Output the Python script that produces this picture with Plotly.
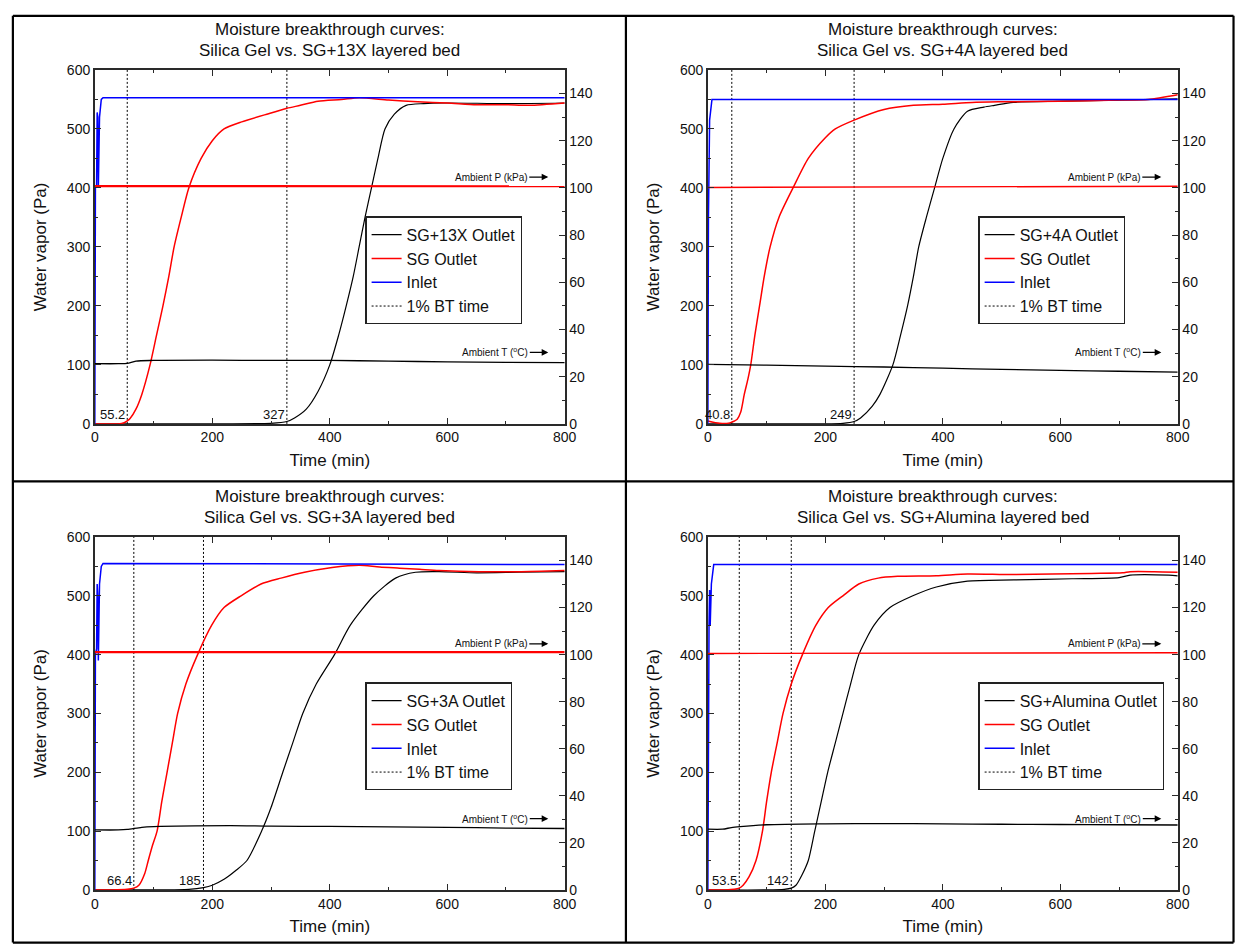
import plotly.graph_objects as go

W, H = 1247, 952
FONT = "Liberation Sans, Arial, Helvetica, sans-serif"

# ---------------- data ----------------
p1_title = ["Moisture breakthrough curves:", "Silica Gel vs. SG+13X layered bed"]
p1_name = "SG+13X Outlet"
p1_sg_t = [0, 20, 40, 50, 55.2, 60, 70, 80, 94, 105, 116, 126, 135, 147, 160, 181, 200, 220, 250, 300, 327, 350, 380, 420, 450, 500, 550, 600, 650, 700, 740, 800]
p1_sg_v = [0, 0, 0, 2, 5, 9, 25, 50, 100, 150, 200, 250, 300, 350, 400, 450, 480, 500, 512, 527, 535, 540, 547, 550, 553, 549, 546, 544, 541, 541, 540, 544]
p1_mix_t = [0, 100, 200, 300, 327, 340, 360, 380, 400, 415, 428, 440, 450, 460, 471, 482, 494, 510, 530, 560, 600, 700, 800]
p1_mix_v = [0, 0, 0, 1, 4, 10, 25, 55, 100, 150, 200, 250, 300, 350, 400, 450, 500, 525, 540, 543, 544, 543, 544]
p1_in_t = [0, 1, 3, 4, 5, 6, 8, 11, 14, 800]
p1_in_v = [0, 400, 405, 528, 520, 400, 520, 550, 553, 553]
p1_pamb_t = [0, 200, 400, 600, 800]
p1_pamb_v = [100.8, 100.8, 100.8, 100.7, 100.7]
p1_tamb_t = [0, 40, 55, 70, 100, 200, 300, 400, 500, 600, 700, 800]
p1_tamb_v = [25.5, 25.5, 25.6, 26.6, 26.9, 27.0, 26.9, 26.9, 26.6, 26.3, 26.1, 26.0]
p1_bt = [55.2, 327]

p2_title = ["Moisture breakthrough curves:", "Silica Gel vs. SG+4A layered bed"]
p2_name = "SG+4A Outlet"
p2_sg_t = [0, 20, 35, 40.8, 50, 56, 62, 68, 73, 80, 88, 96, 106, 121, 145, 171, 200, 217, 249, 300, 350, 400, 450, 500, 600, 700, 750, 800]
p2_sg_v = [5, 1, 1, 3, 8, 20, 50, 75, 100, 150, 200, 250, 300, 350, 400, 450, 485, 500, 515, 533, 540, 542, 545, 546, 547, 549, 550, 558]
p2_mix_t = [0, 100, 200, 230, 249, 260, 280, 293, 315, 328, 340, 350, 359, 372, 386, 400, 419, 442, 470, 488, 520, 600, 700, 800]
p2_mix_v = [0, 0, 0, 1, 4, 10, 30, 50, 100, 150, 200, 250, 300, 350, 400, 450, 500, 530, 537, 540, 545, 547, 549, 551]
p2_in_t = [0, 1, 3, 4, 7, 800]
p2_in_v = [0, 350, 515, 525, 550, 550]
p2_pamb_t = [0, 200, 400, 600, 800]
p2_pamb_v = [100.2, 100.3, 100.4, 100.5, 100.7]
p2_tamb_t = [0, 100, 200, 300, 400, 500, 600, 700, 800]
p2_tamb_v = [25.2, 24.9, 24.5, 24.1, 23.6, 23.1, 22.7, 22.3, 21.9]
p2_bt = [40.8, 249]

p3_title = ["Moisture breakthrough curves:", "Silica Gel vs. SG+3A layered bed"]
p3_name = "SG+3A Outlet"
p3_sg_t = [0, 30, 55, 66.4, 75, 85, 91, 98, 106, 114, 123, 132, 141, 155, 175, 199, 220, 249, 283, 317, 357, 404, 431, 451, 485, 519, 553, 586, 654, 721, 800]
p3_sg_v = [0, 0, 1, 3, 8, 28, 50, 75, 100, 150, 200, 250, 300, 350, 400, 450, 480, 500, 520, 530, 540, 548, 551, 552, 549, 547, 545, 543, 541, 541, 543]
p3_mix_t = [0, 100, 160, 185, 200, 220, 240, 259, 284, 300, 320, 337, 354, 377, 408, 435, 475, 512, 546, 586, 650, 721, 800]
p3_mix_v = [0, 0, 1, 4, 8, 18, 33, 50, 100, 140, 200, 250, 300, 350, 400, 450, 500, 530, 540, 541, 539, 540, 541]
p3_in_t = [0, 1, 3, 4, 5, 6, 8, 11, 14, 800]
p3_in_v = [0, 400, 410, 520, 500, 390, 520, 550, 555, 553]
p3_pamb_t = [0, 200, 400, 600, 800]
p3_pamb_v = [101.1, 101.1, 101.1, 101.1, 101.1]
p3_tamb_t = [0, 40, 55, 80, 100, 230, 300, 400, 500, 600, 700, 800]
p3_tamb_v = [25.5, 25.5, 25.7, 26.6, 26.9, 27.3, 27.1, 27.0, 26.8, 26.6, 26.3, 26.1]
p3_bt = [66.4, 185]

p4_title = ["Moisture breakthrough curves:", "Silica Gel vs. SG+Alumina layered bed"]
p4_name = "SG+Alumina Outlet"
p4_sg_t = [0, 30, 45, 53.5, 60, 70, 82, 93, 100, 108, 118, 128, 142, 161, 184, 205, 230, 257, 290, 323, 389, 442, 521, 653, 706, 719, 760, 800]
p4_sg_v = [0, 0, 1, 3, 8, 22, 50, 100, 150, 200, 250, 300, 350, 400, 450, 480, 500, 520, 530, 533, 534, 537, 536, 538, 539, 541, 541, 540]
p4_mix_t = [0, 100, 130, 142, 150, 160, 171, 182, 193, 204, 217, 230, 243, 257, 283, 310, 349, 389, 442, 521, 620, 700, 719, 785, 800]
p4_mix_v = [0, 0, 1, 3, 8, 25, 50, 100, 150, 200, 250, 300, 350, 400, 450, 480, 500, 515, 525, 527, 529, 531, 535, 535, 534]
p4_in_t = [0, 1, 2, 3, 4, 6, 10, 800]
p4_in_v = [0, 300, 450, 510, 450, 520, 553, 553]
p4_pamb_t = [0, 200, 400, 600, 800]
p4_pamb_v = [100.5, 100.5, 100.6, 100.7, 100.8]
p4_tamb_t = [0, 25, 40, 55, 100, 200, 300, 400, 500, 600, 700, 800]
p4_tamb_v = [25.8, 25.8, 26.5, 26.9, 27.7, 28.1, 28.2, 28.1, 27.9, 27.8, 27.7, 27.6]
p4_bt = [53.5, 142]

x_range = [0, 800]
y_left_range = [0, 600]
y_right_range = [0, 150]
y_right_ticks = [0, 20, 40, 60, 80, 100, 120, 140]
ambient_labels = [("Ambient P (kPa)", 104.6, -57), ("Ambient T (<sup>o</sup>C)", 30.3, -53)]

panels = [
    dict(title=p1_title, name=p1_name, sg=(p1_sg_t, p1_sg_v), mix=(p1_mix_t, p1_mix_v), inlet=(p1_in_t, p1_in_v),
         pamb=(p1_pamb_t, p1_pamb_v), tamb=(p1_tamb_t, p1_tamb_v), bt=p1_bt),
    dict(title=p2_title, name=p2_name, sg=(p2_sg_t, p2_sg_v), mix=(p2_mix_t, p2_mix_v), inlet=(p2_in_t, p2_in_v),
         pamb=(p2_pamb_t, p2_pamb_v), tamb=(p2_tamb_t, p2_tamb_v), bt=p2_bt),
    dict(title=p3_title, name=p3_name, sg=(p3_sg_t, p3_sg_v), mix=(p3_mix_t, p3_mix_v), inlet=(p3_in_t, p3_in_v),
         pamb=(p3_pamb_t, p3_pamb_v), tamb=(p3_tamb_t, p3_tamb_v), bt=p3_bt),
    dict(title=p4_title, name=p4_name, sg=(p4_sg_t, p4_sg_v), mix=(p4_mix_t, p4_mix_v), inlet=(p4_in_t, p4_in_v),
         pamb=(p4_pamb_t, p4_pamb_v), tamb=(p4_tamb_t, p4_tamb_v), bt=p4_bt),
]

plot_boxes = [(92, 568, 63, 423), (713, 1189, 63, 423), (92, 568, 538, 897), (713, 1189, 538, 897)]
title_rows = [(22, 43), (22, 43), (497, 518), (497, 518)]
legend_pos = [(366, 212), (987, 212), (366, 686), (987, 686)]
pamb_width = [2.2, 1.4, 2.2, 1.4]


def px(x):
    return x / W


def py(y):
    return 1 - y / H


AX = "#2a2a2a"
fig = go.Figure()
annotations = []
layout = dict(
    width=W, height=H, margin=dict(l=0, r=0, t=0, b=0), autosize=False,
    paper_bgcolor="white", plot_bgcolor="white",
    font=dict(family=FONT, size=14, color="#111"),
)

for i, p in enumerate(panels):
    n = i + 1
    xa = "x" if n == 1 else f"x{n}"
    yl = "y" if n == 1 else f"y{2*n-1}"
    yr = f"y{2*n}"
    lg = "legend" if n == 1 else f"legend{n}"
    L, R, T, B = plot_boxes[i]

    fig.add_trace(go.Scatter(x=p["pamb"][0], y=p["pamb"][1], xaxis=xa, yaxis=yr, mode="lines",
                             line=dict(color="#ff0000", width=pamb_width[i]), showlegend=False, hoverinfo="skip"))
    fig.add_trace(go.Scatter(x=p["tamb"][0], y=p["tamb"][1], xaxis=xa, yaxis=yr, mode="lines",
                             line=dict(color="#000000", width=1.3, shape="spline", smoothing=0.8),
                             showlegend=False, hoverinfo="skip"))
    bx, by = [], []
    for b in p["bt"]:
        bx += [b, b, None]
        by += [y_left_range[0], y_left_range[1], None]
    fig.add_trace(go.Scatter(x=bx, y=by, xaxis=xa, yaxis=yl, mode="lines", name="1% BT time",
                             line=dict(color="#000000", width=1, dash="2px,2px"), legend=lg, legendrank=4))
    fig.add_trace(go.Scatter(x=p["mix"][0], y=p["mix"][1], xaxis=xa, yaxis=yl, mode="lines", name=p["name"],
                             line=dict(color="#000000", width=1.2, shape="spline", smoothing=0.7),
                             legend=lg, legendrank=1))
    fig.add_trace(go.Scatter(x=p["sg"][0], y=p["sg"][1], xaxis=xa, yaxis=yl, mode="lines", name="SG Outlet",
                             line=dict(color="#ff0000", width=1.5, shape="spline", smoothing=0.7),
                             legend=lg, legendrank=2))
    fig.add_trace(go.Scatter(x=p["inlet"][0], y=p["inlet"][1], xaxis=xa, yaxis=yl, mode="lines", name="Inlet",
                             line=dict(color="#0000ff", width=1.5), legend=lg, legendrank=3))

    tick_common = dict(showline=True, linecolor=AX, linewidth=1.6, ticks="inside", ticklen=6, tickwidth=1.3,
                       tickcolor=AX, showgrid=False, zeroline=False, tickfont=dict(size=14, color="#111"))
    layout["xaxis" if n == 1 else f"xaxis{n}"] = dict(
        domain=[px(L), px(R)], anchor=yl, range=x_range, dtick=200, mirror="ticks",
        minor=dict(dtick=100, ticks="inside", ticklen=3, tickcolor=AX),
        title=dict(text="Time (min)", font=dict(size=17), standoff=10), **tick_common)
    layout["yaxis" if n == 1 else f"yaxis{2*n-1}"] = dict(
        domain=[py(B), py(T)], anchor=xa, range=y_left_range, dtick=100,
        minor=dict(dtick=50, ticks="inside", ticklen=3, tickcolor=AX),
        title=dict(text="Water vapor (Pa)", font=dict(size=17), standoff=16), **tick_common)
    layout[f"yaxis{2*n}"] = dict(
        overlaying=yl, side="right", anchor=xa, range=y_right_range, tickvals=y_right_ticks,
        minor=dict(dtick=10, ticks="inside", ticklen=3, tickcolor=AX), **tick_common)

    layout[lg] = dict(x=px(legend_pos[i][0]), y=py(legend_pos[i][1]), xanchor="left", yanchor="top",
                      bgcolor="white", bordercolor="#222", borderwidth=1.3, font=dict(size=16, color="#111"),
                      traceorder="normal", tracegroupgap=0)

    for line_text, row_y in zip(p["title"], title_rows[i]):
        annotations.append(dict(text=line_text, xref="paper", yref="paper", x=px((L + R) / 2), y=py(row_y),
                                xanchor="center", yanchor="middle", showarrow=False,
                                font=dict(size=17, color="#111")))
    for b in p["bt"]:
        annotations.append(dict(text=f"{b:g}", xref=xa, yref=yl, x=b, y=0, xanchor="right", yanchor="bottom",
                                showarrow=False, font=dict(size=13, color="#111")))
    for lab, yv, axoff in ambient_labels:
        annotations.append(dict(text=lab, xref=xa, yref=yr, x=772, y=yv, ax=axoff, ay=0, showarrow=True,
                                arrowhead=2, arrowsize=1.1, arrowwidth=1.2, arrowcolor="#000",
                                font=dict(size=10, color="#111")))

layout["annotations"] = annotations

frame = dict(type="line", xref="paper", yref="paper", line=dict(color="black", width=2.2))
xs = [9, 630, 1245.5]
ys = [8, 481.5, 950.5]
shapes = []
for xv in xs:
    shapes.append(dict(frame, x0=px(xv), x1=px(xv), y0=py(ys[0]), y1=py(ys[-1])))
for yv in ys:
    shapes.append(dict(frame, x0=px(xs[0]), x1=px(xs[-1]), y0=py(yv), y1=py(yv)))
layout["shapes"] = shapes

fig.update_layout(**layout)
pin_js = (
    "var d=document.getElementById('{plot_id}');"
    "d.style.position='fixed';d.style.left='0px';d.style.top='0px';"
    "document.body.style.margin='0';"
    "document.documentElement.style.overflow='hidden';document.body.style.overflow='hidden';"
)
fig.write_html("out.html", config={"displayModeBar": False, "responsive": False}, post_script=pin_js)
